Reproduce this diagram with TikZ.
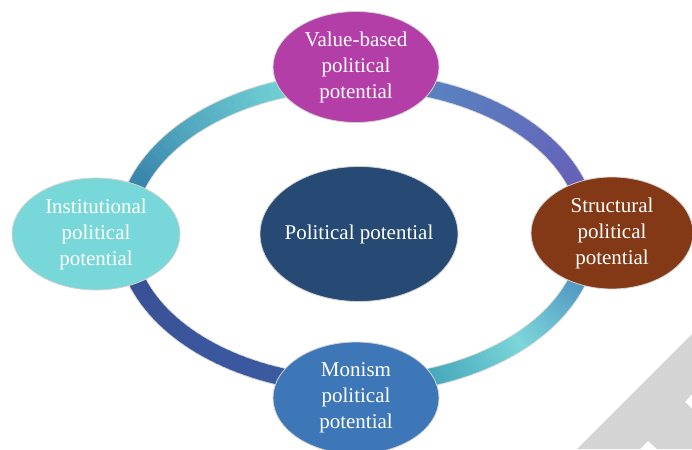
\documentclass[tikz,border=0pt]{standalone}
\usepackage{fontspec}
\setmainfont{Liberation Serif}
\usetikzlibrary{shapes.geometric}
\definecolor{cTop}{HTML}{B33EA8}
\definecolor{cLeft}{HTML}{78D7D8}
\definecolor{cRight}{HTML}{833915}
\definecolor{cBottom}{HTML}{3D77B8}
\definecolor{cCenter}{HTML}{264A73}
\definecolor{cGrey}{HTML}{D4D4D4}
\definecolor{rA}{HTML}{5A80C0}
\definecolor{rB}{HTML}{6660B8}
\definecolor{rC}{HTML}{549CC4}
\definecolor{rD}{HTML}{7CD6DA}
\definecolor{rE}{HTML}{48A9BC}
\definecolor{rF}{HTML}{3B5AA0}
\definecolor{rG}{HTML}{3A5096}
\definecolor{rH}{HTML}{3A85AC}
\definecolor{rI}{HTML}{6FD0D4}
\newcommand\ringseg[6]{%
  \foreach \i in {0,...,44}{%
    \pgfmathsetmacro\ta{#1+(#2-#1)*\i/45}%
    \pgfmathsetmacro\tb{#1+(#2-#1)*(\i+1)/45+0.4}%
    \pgfmathsetmacro\ff{max(0,min(1,(\ta-#3)/(#4-#3)))}%
    \pgfmathtruncatemacro\pp{100*\ff}%
    \draw[line width=17, color=#6!\pp!#5] plot[domain=\ta:\tb, samples=4] ({357+232*cos(\x)},{233+152*sin(\x)});
  }}
\begin{document}
\begin{tikzpicture}[x=1pt,y=-1pt,
  bubble/.style={ellipse, draw=gray!35, line width=0.8, inner sep=0pt},
  lbl/.style={text=white, align=center, font=\fontsize{21}{26}\selectfont, inner sep=0pt}]
\useasboundingbox (0,0) rectangle (692,449);
% grey corner shape
\fill[cGrey] (577,449) -- (692,334) -- (692,394) -- (685,402) -- (692,409) -- (692,449) -- (657,449) -- (648,441) -- (640,449) -- cycle;
% ring
\draw[gray!30, line width=19] (357,233) ellipse [x radius=232, y radius=152];
\ringseg{270}{360}{290}{340}{rA}{rB}
\ringseg{0}{45}{20}{45}{rC}{rD}
\ringseg{45}{90}{45}{70}{rD}{rE}
\ringseg{90}{180}{110}{160}{rF}{rG}
\ringseg{180}{270}{199}{250}{rH}{rI}
% nodes
\node[bubble, fill=cCenter, minimum width=198, minimum height=135,
  label={[lbl]center:Political potential}] (center) at (359,234) {};
\node[bubble, fill=cTop, minimum width=166, minimum height=111,
  label={[lbl]center:Value-based\\political\\potential}] (top) at (356,67) {};
\node[bubble, fill=cLeft, minimum width=168, minimum height=112,
  label={[lbl]center:Institutional\\political\\potential}] (left) at (96,234) {};
\node[bubble, fill=cRight, minimum width=162, minimum height=112,
  label={[lbl]center:Structural\\political\\potential}] (right) at (612,233) {};
\node[bubble, fill=cBottom, minimum width=166, minimum height=112,
  label={[lbl]center:Monism\\political\\potential}] (bottom) at (356,398) {};
\end{tikzpicture}
\end{document}
